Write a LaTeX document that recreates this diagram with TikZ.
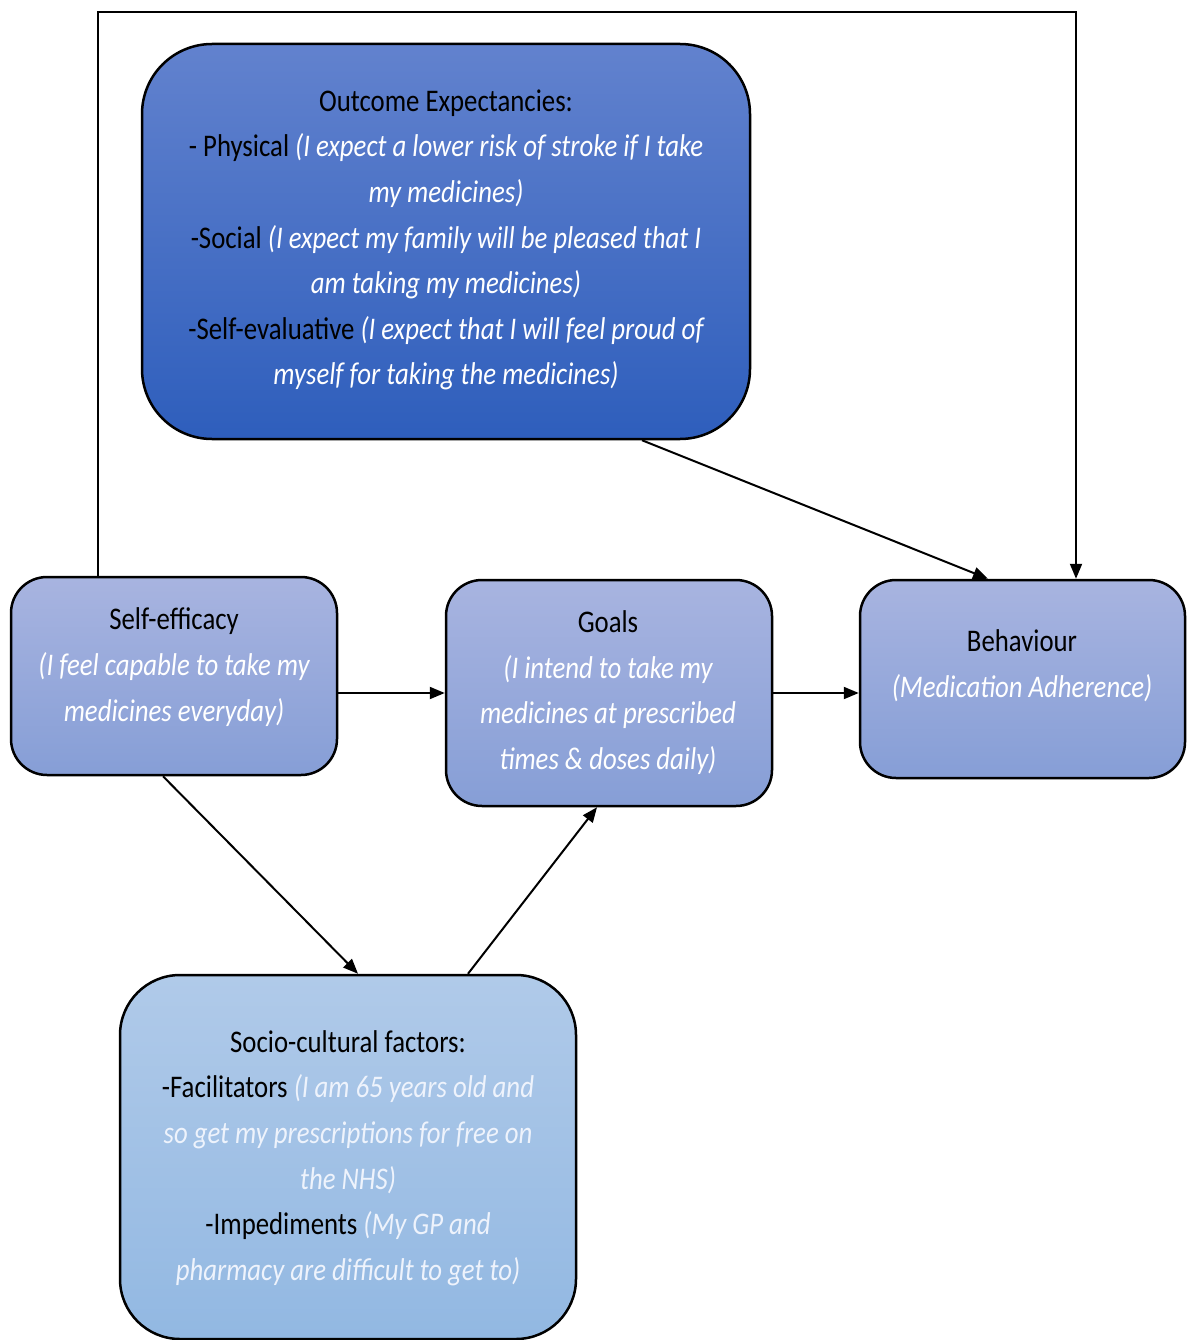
\documentclass[tikz,border=0pt]{standalone}
\usepackage{fontspec}
\setmainfont{Carlito}[FakeStretch=0.85]
\usetikzlibrary{arrows.meta}
\definecolor{oeTop}{RGB}{98,130,206}
\definecolor{oeBot}{RGB}{46,94,188}
\definecolor{mTop}{RGB}{168,180,224}
\definecolor{mBot}{RGB}{134,158,214}
\definecolor{sTop}{RGB}{176,202,233}
\definecolor{sBot}{RGB}{146,184,226}
\definecolor{paleW}{RGB}{238,243,252}
\newcommand\exm[1]{\textcolor{white}{\itshape #1}}
\newcommand\exs[1]{\textcolor{paleW}{\itshape #1}}
\begin{document}
\begin{tikzpicture}[x=1pt,y=-1pt,
  box/.style={draw=black, line width=2.5pt, rectangle, rounded corners=#1, inner sep=0pt},
  txt/.style={align=center, inner sep=0pt, font=\fontsize{31.5}{45.6}\selectfont},
  arr/.style={line width=2pt, -{Triangle[length=15pt,width=12pt]}}]
\path[use as bounding box, fill=white] (0,0) rectangle (1187,1340);

\node[box=70, top color=oeTop, bottom color=oeBot, minimum width=608pt, minimum height=395pt] (oe) at (446,241.5) {};
\node[box=36, top color=mTop, bottom color=mBot, minimum width=326pt, minimum height=198pt] (se) at (174,676) {};
\node[box=36, top color=mTop, bottom color=mBot, minimum width=326pt, minimum height=226pt] (go) at (609,693) {};
\node[box=36, top color=mTop, bottom color=mBot, minimum width=325pt, minimum height=198pt] (be) at (1022.5,679) {};
\node[box=60, top color=sTop, bottom color=sBot, minimum width=456pt, minimum height=364pt] (so) at (348,1157) {};

\node[txt] (oet) at (446,240) {Outcome Expectancies:\\- Physical \exm{(I expect a lower risk of stroke if I take}\\\exm{my medicines)}\\-Social \exm{(I expect my family will be pleased that I}\\\exm{am taking my medicines)}\\-Self-evaluative \exm{(I expect that I will feel proud of}\\\exm{myself for taking the medicines)}};
\node[txt] (set) at (174,667) {Self-efficacy\\\exm{(I feel capable to take my}\\\exm{medicines everyday)}};
\node[txt] (got) at (608,692.5) {Goals\\\exm{(I intend to take my}\\\exm{medicines at prescribed}\\\exm{times \& doses daily)}};
\node[txt] (bet) at (1022,665.5) {Behaviour\\\exm{(Medication Adherence)}};
\node[txt] (sot) at (348,1158) {Socio-cultural factors:\\-Facilitators \exs{(I am 65 years old and}\\\exs{so get my prescriptions for free on}\\\exs{the NHS)}\\-Impediments \exs{(My GP and}\\\exs{pharmacy are difficult to get to)}};

\coordinate (topc) at (1076,12);
\draw[arr] ([xshift=-76pt]se.north) |- (topc) -- ([xshift=53.5pt]be.north);
\draw[arr] ([xshift=196pt]oe.south) -- ([xshift=-34.5pt]be.north);
\draw[arr] (se.east |- go.west) -- (go.west);
\draw[arr] (go.east) -- (go.east -| be.west);
\draw[arr] ([xshift=-11pt]se.south) -- ([xshift=10pt]so.north);
\draw[arr] ([xshift=120pt]so.north) -- ([xshift=-12pt]go.south);
\end{tikzpicture}
\end{document}
